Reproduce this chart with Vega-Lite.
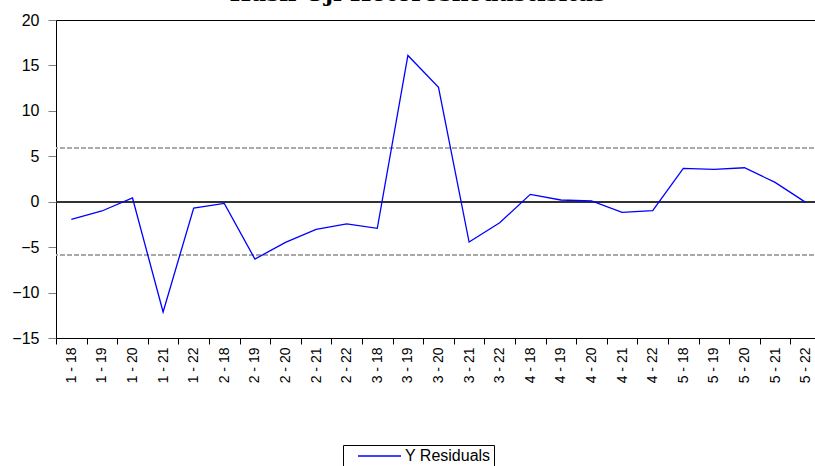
{
  "$schema": "https://vega.github.io/schema/vega-lite/v6.json",
  "autosize": "none",
  "width": 765,
  "height": 318,
  "padding": {"left": 56, "top": 20, "right": 0, "bottom": 128},
  "background": "white",
  "title": {
    "text": "Hasil Uji Heteroskedastisitas",
    "font": "DejaVu Serif",
    "fontSize": 23,
    "fontWeight": "bold",
    "color": "black",
    "anchor": "middle",
    "frame": "bounds",
    "baseline": "alphabetic",
    "offset": 2,
    "dy": 14,
    "dx": 1
  },
  "config": {
    "view": {"stroke": "black", "strokeWidth": 1},
    "font": "Liberation Sans"
  },
  "data": {
    "values": [
      {"obs": "1 - 18", "resid": -1.94, "series": "Y Residuals"},
      {"obs": "1 - 19", "resid": -1.02, "series": "Y Residuals"},
      {"obs": "1 - 20", "resid": 0.41, "series": "Y Residuals"},
      {"obs": "1 - 21", "resid": -12.14, "series": "Y Residuals"},
      {"obs": "1 - 22", "resid": -0.69, "series": "Y Residuals"},
      {"obs": "2 - 18", "resid": -0.18, "series": "Y Residuals"},
      {"obs": "2 - 19", "resid": -6.31, "series": "Y Residuals"},
      {"obs": "2 - 20", "resid": -4.47, "series": "Y Residuals"},
      {"obs": "2 - 21", "resid": -3.04, "series": "Y Residuals"},
      {"obs": "2 - 22", "resid": -2.45, "series": "Y Residuals"},
      {"obs": "3 - 18", "resid": -2.93, "series": "Y Residuals"},
      {"obs": "3 - 19", "resid": 16.1, "series": "Y Residuals"},
      {"obs": "3 - 20", "resid": 12.59, "series": "Y Residuals"},
      {"obs": "3 - 21", "resid": -4.44, "series": "Y Residuals"},
      {"obs": "3 - 22", "resid": -2.31, "series": "Y Residuals"},
      {"obs": "4 - 18", "resid": 0.81, "series": "Y Residuals"},
      {"obs": "4 - 19", "resid": 0.19, "series": "Y Residuals"},
      {"obs": "4 - 20", "resid": 0.08, "series": "Y Residuals"},
      {"obs": "4 - 21", "resid": -1.17, "series": "Y Residuals"},
      {"obs": "4 - 22", "resid": -0.99, "series": "Y Residuals"},
      {"obs": "5 - 18", "resid": 3.67, "series": "Y Residuals"},
      {"obs": "5 - 19", "resid": 3.56, "series": "Y Residuals"},
      {"obs": "5 - 20", "resid": 3.74, "series": "Y Residuals"},
      {"obs": "5 - 21", "resid": 2.13, "series": "Y Residuals"},
      {"obs": "5 - 22", "resid": -0.07, "series": "Y Residuals"}
    ]
  },
  "layer": [
    {
      "mark": {"type": "rule", "color": "#aaaaaa", "strokeDash": [5, 2], "strokeWidth": 1},
      "encoding": {"y": {"datum": 5.9, "type": "quantitative"}}
    },
    {
      "mark": {"type": "rule", "color": "#aaaaaa", "strokeDash": [5, 2], "strokeWidth": 1},
      "encoding": {"y": {"datum": -5.9, "type": "quantitative"}}
    },
    {
      "mark": {"type": "rule", "color": "#333333", "strokeWidth": 1},
      "encoding": {"y": {"datum": 0, "type": "quantitative"}}
    },
    {
      "mark": {"type": "line", "strokeWidth": 1.3},
      "encoding": {
        "x": {
          "field": "obs",
          "type": "ordinal",
          "sort": null,
          "bandPosition": 0.5,
          "scale": {"type": "band", "paddingInner": 0, "paddingOuter": 0},
          "axis": {
            "title": null,
            "labelAngle": -90,
            "labelFontSize": 14,
            "labelColor": "black",
            "labelPadding": 3,
            "tickBand": "extent",
            "tickColor": "black",
            "tickSize": 6,
            "domainColor": "black",
            "grid": false
          }
        },
        "y": {
          "field": "resid",
          "type": "quantitative",
          "scale": {"domain": [-15, 20], "nice": false, "zero": false},
          "axis": {
            "title": null,
            "values": [-15, -10, -5, 0, 5, 10, 15, 20],
            "labelFontSize": 16,
            "labelColor": "black",
            "labelPadding": 9,
            "tickColor": "#808080",
            "tickSize": 8,
            "domainColor": "black",
            "grid": false
          }
        },
        "color": {
          "field": "series",
          "type": "nominal",
          "scale": {"range": ["#0000ff"]},
          "legend": {
            "title": null,
            "orient": "none",
            "legendX": 287,
            "legendY": 425,
            "symbolType": "M-1,0H7.6",
            "symbolSize": 100,
            "symbolStrokeWidth": 1.3,
            "symbolOffset": 9,
            "labelFontSize": 16,
            "labelColor": "black",
            "labelOffset": 34,
            "labelExpr": "datum.label + '\u00a0\u00a0\u00a0'",
            "strokeColor": "black",
            "padding": 3
          }
        }
      }
    }
  ]
}
